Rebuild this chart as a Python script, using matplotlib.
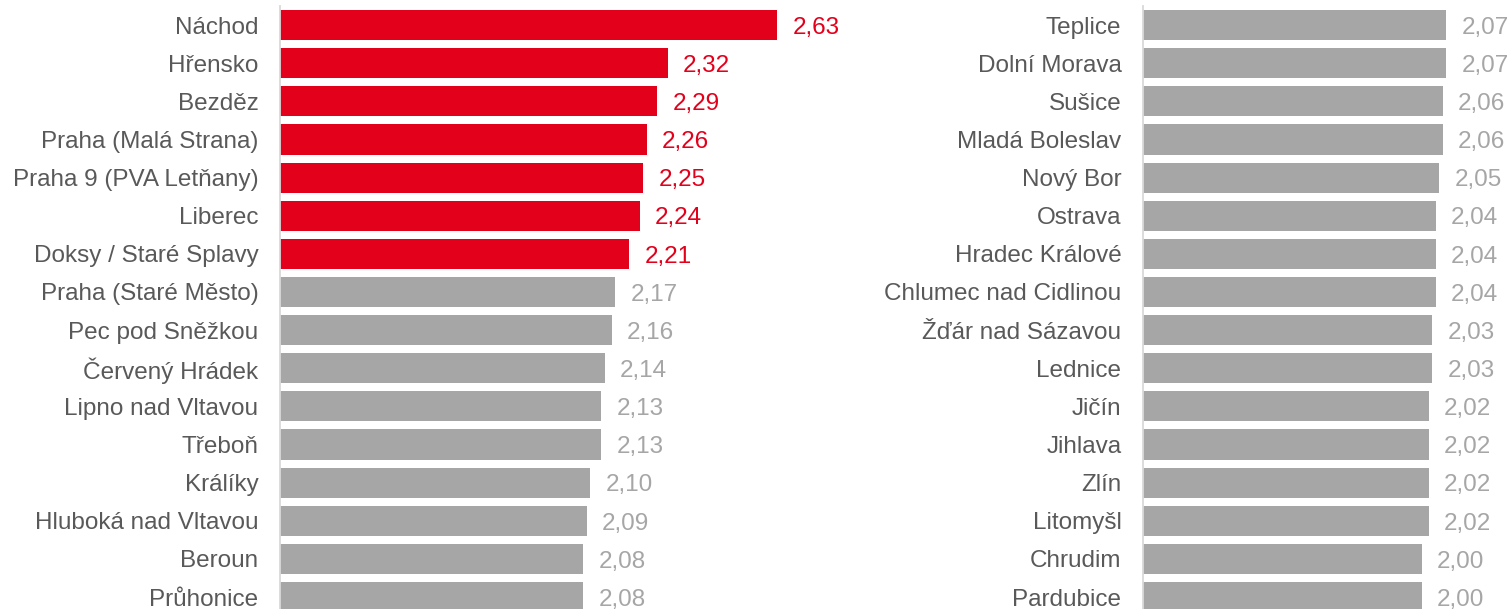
import matplotlib
matplotlib.use("Agg")
import matplotlib.pyplot as plt

plt.rcParams['font.family'] = ['Liberation Sans', 'DejaVu Sans']

left_names = ["Náchod", "Hřensko", "Bezděz", "Praha (Malá Strana)", "Praha 9 (PVA Letňany)",
              "Liberec", "Doksy / Staré Splavy", "Praha (Staré Město)", "Pec pod Sněžkou",
              "Červený Hrádek", "Lipno nad Vltavou", "Třeboň", "Králíky",
              "Hluboká nad Vltavou", "Beroun", "Průhonice"]
left_values = [2.63, 2.32, 2.29, 2.26, 2.25, 2.24, 2.21, 2.17, 2.16, 2.14, 2.13, 2.13,
               2.10, 2.09, 2.08, 2.08]
left_highlight = 7  # first seven bars in red

right_names = ["Teplice", "Dolní Morava", "Sušice", "Mladá Boleslav", "Nový Bor", "Ostrava",
               "Hradec Králové", "Chlumec nad Cidlinou", "Žďár nad Sázavou", "Lednice",
               "Jičín", "Jihlava", "Zlín", "Litomyšl", "Chrudim", "Pardubice"]
right_values = [2.07, 2.07, 2.06, 2.06, 2.05, 2.04, 2.04, 2.04, 2.03, 2.03, 2.02, 2.02,
                2.02, 2.02, 2.00, 2.00]

RED = '#E3001B'
GRAY = '#A6A6A6'
TEXT = '#595959'
FS = 17.5

W, H = 1511, 609
fig = plt.figure(figsize=(W / 100, H / 100), dpi=100)

row_h = 38.13
ax_h = 16 * row_h
top = 6
x0 = 1.218
px_per_unit = 352
ax_w = 600
x1 = x0 + ax_w / px_per_unit


def draw_panel(left_px, names, values, n_red, x_start):
    ax = fig.add_axes([left_px / W, (H - top - ax_h) / H, ax_w / W, ax_h / H])
    colors = [RED if i < n_red else GRAY for i in range(len(values))]
    ypos = list(range(len(values)))
    ax.barh(ypos, [v - x_start for v in values], left=x_start, height=0.79, color=colors)
    ax.set_xlim(x_start, x_start + ax_w / px_per_unit)
    ax.set_ylim(len(values) - 0.5, -0.5)
    ax.set_yticks(ypos)
    ax.set_yticklabels(names, fontsize=FS, color=TEXT)
    ax.tick_params(axis='y', length=0, pad=15.5)
    ax.set_xticks([])
    for s in ['top', 'right', 'bottom']:
        ax.spines[s].set_visible(False)
    ax.spines['left'].set_color('#D9D9D9')
    ax.spines['left'].set_linewidth(1.3)
    for i, v in enumerate(values):
        ax.annotate(f"{v:.2f}".replace('.', ','), xy=(v, i), xytext=(11, -2),
                    textcoords='offset points', va='center', ha='left',
                    fontsize=FS, color=colors[i] if i < n_red else GRAY)
    return ax


draw_panel(280, left_names, left_values, left_highlight, x0)
draw_panel(1143, right_names, right_values, 0, x0 - 0.01)

fig.savefig("out.png", dpi=100)
